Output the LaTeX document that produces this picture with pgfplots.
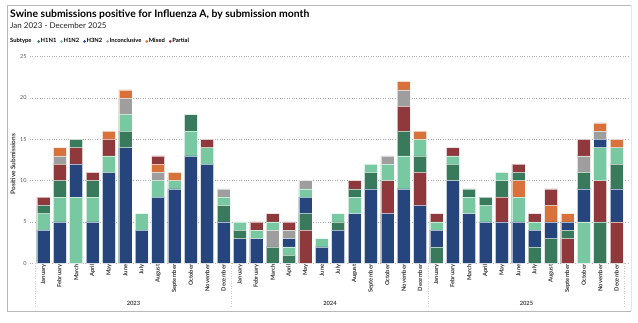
\documentclass[border=0pt]{standalone}
\usepackage{pgfplots}
\pgfplotsset{compat=1.18}
\usepackage{pgfplotstable}
\usepackage{fontspec}
\setmainfont{Lato}

\definecolor{col1}{HTML}{26457D} % H3N2
\definecolor{col2}{HTML}{78C9A1} % H1N2
\definecolor{col3}{HTML}{3A7A5C} % H1N1
\definecolor{col4}{HTML}{8F393C} % Partial
\definecolor{col5}{HTML}{9E9E9E} % Inconclusive
\definecolor{col6}{HTML}{D8723A} % Mixed

% segments bottom-to-top: colour code c, value v
% 1=H3N2 2=H1N2 3=H1N1 4=Partial 5=Inconclusive 6=Mixed
\pgfplotstableread{
x c1 v1 c2 v2 c3 v3 c4 v4 c5 v5 c6 v6
0 1 4 2 2 3 1 4 1 0 0 0 0
1 1 5 2 3 3 2 4 2 5 1 6 1
2 2 8 1 4 4 2 3 1 0 0 0 0
3 1 5 2 3 3 2 4 1 0 0 0 0
4 1 11 2 2 4 2 6 1 0 0 0 0
5 1 14 3 2 2 2 5 2 6 1 0 0
6 1 4 2 2 0 0 0 0 0 0 0 0
7 1 8 2 2 5 1 6 1 4 1 0 0
8 1 9 2 1 6 1 0 0 0 0 0 0
9 1 13 2 3 3 2 0 0 0 0 0 0
10 1 12 2 2 4 1 0 0 0 0 0 0
11 1 5 3 2 2 1 5 1 0 0 0 0
12 1 3 3 1 2 1 0 0 0 0 0 0
13 1 3 2 1 4 1 0 0 0 0 0 0
14 3 2 5 2 2 1 4 1 0 0 0 0
15 3 1 2 1 1 1 5 1 4 1 0 0
16 4 4 3 2 1 2 2 1 5 1 0 0
17 1 2 2 1 0 0 0 0 0 0 0 0
18 1 4 3 1 2 1 0 0 0 0 0 0
19 1 6 2 2 3 1 4 1 0 0 0 0
20 1 9 3 2 2 1 0 0 0 0 0 0
21 1 6 4 4 2 2 5 1 0 0 0 0
22 1 9 2 4 3 3 4 3 5 2 6 1
23 1 7 4 4 3 2 2 2 6 1 0 0
24 3 2 1 2 2 1 4 1 0 0 0 0
25 1 10 3 2 2 1 4 1 0 0 0 0
26 1 6 2 2 3 1 0 0 0 0 0 0
27 1 5 2 2 3 1 0 0 0 0 0 0
28 1 5 4 3 3 2 2 1 0 0 0 0
29 1 5 2 3 6 2 3 1 4 1 0 0
30 3 2 1 2 2 1 4 1 0 0 0 0
31 3 3 1 2 6 2 4 2 0 0 0 0
32 4 3 3 1 1 1 6 1 0 0 0 0
33 2 5 1 4 3 2 5 2 4 2 0 0
34 3 5 4 5 2 4 1 1 5 1 6 1
35 4 5 1 4 3 3 2 2 6 1 0 0
}\segs
\pgfplotstablecreatecol[expr={\thisrow{v1}}]{s1}\segs
\pgfplotstablecreatecol[expr={\thisrow{s1}+\thisrow{v2}}]{s2}\segs
\pgfplotstablecreatecol[expr={\thisrow{s2}+\thisrow{v3}}]{s3}\segs
\pgfplotstablecreatecol[expr={\thisrow{s3}+\thisrow{v4}}]{s4}\segs
\pgfplotstablecreatecol[expr={\thisrow{s4}+\thisrow{v5}}]{s5}\segs
\pgfplotstablecreatecol[expr={\thisrow{s5}+\thisrow{v6}}]{s6}\segs

\newcommand{\seg}[2]{%
\addplot[ybar, bar width=13pt, bar shift=0pt, fill=col#2, draw=white, draw opacity=0.6, line width=0.5pt, forget plot]
 table[x=x, y expr={\thisrow{c#1}==#2 ? \thisrow{s#1} : nan}] {\segs};}
\newcommand{\layer}[1]{\seg{#1}{1}\seg{#1}{2}\seg{#1}{3}\seg{#1}{4}\seg{#1}{5}\seg{#1}{6}}

\begin{document}
\begin{tikzpicture}
\useasboundingbox (0,0) rectangle (638pt,322pt);
\fill[white] (0,0) rectangle (638pt,322pt);
\draw[gray!55, line width=0.9pt] (631pt,11pt) -- (7pt,11pt) -- (7pt,317pt) -- (631pt,317pt);
\draw[gray!20, line width=0.9pt] (631pt,11pt) -- (631pt,317pt);
\node[anchor=base west, font=\fontsize{10.4}{12}\selectfont\bfseries, inner sep=0pt] at (10pt,304pt) {Swine submissions positive for Influenza A, by submission month};
\node[anchor=base west, font=\fontsize{8}{9}\selectfont, inner sep=0pt, text=black!85] at (10pt,293pt) {Jan 2023 - December 2025};
\node[anchor=base west, font=\fontsize{5.8}{6}\selectfont\bfseries, inner sep=0pt] at (10pt,279pt) {Subtype};
\begin{axis}[
 at={(30pt,58.7pt)}, anchor=south west,
 scale only axis, width=598pt, height=206.6pt,
 xmin=-0.82, xmax=35.7, ymin=0, ymax=25,
 axis line style={draw=none},
 major tick length=0pt,
 ytick={0,5,...,25},
 ymajorgrids, grid style={dotted, line width=0.6pt, gray!60},
 /pgf/number format/assume math mode=true,
 yticklabel style={font=\fontsize{5.5}{6}\selectfont, text=black!65},
 xtick={0,...,35},
 xticklabels={January,February,March,April,May,June,July,August,September,October,November,December,January,February,March,April,May,June,July,August,September,October,November,December,January,February,March,April,May,June,July,August,September,October,November,December},
 xticklabel style={rotate=90, anchor=east, font=\fontsize{5.8}{6}\selectfont\bfseries, text=black!80, inner sep=1pt},
 ylabel={Positive Submissions},
 every axis y label/.style={at={(axis description cs:-0.0284,0.48)}, rotate=90, anchor=center, font=\fontsize{6.5}{7}\selectfont\bfseries, text=black!80},
 clip=false,
 legend style={at={(axis description cs:0.0117,1.074)}, anchor=west, draw=none, fill=none, legend columns=-1, font=\fontsize{5.8}{6}\selectfont\bfseries, inner sep=0pt, nodes={inner xsep=0.6pt, inner ysep=1pt}, /tikz/every odd column/.style={column sep=0pt}, /tikz/every even column/.style={column sep=3.2pt}},
 legend image code/.code={\fill[#1] (1.5pt,0pt) circle (1.45pt);},
]
\layer{6}\layer{5}\layer{4}\layer{3}\layer{2}\layer{1}
\addlegendimage{fill=col3, draw=none}\addlegendentry{H1N1}
\addlegendimage{fill=col2, draw=none}\addlegendentry{H1N2}
\addlegendimage{fill=col1, draw=none}\addlegendentry{H3N2}
\addlegendimage{fill=col5, draw=none}\addlegendentry{Inconclusive}
\addlegendimage{fill=col6, draw=none}\addlegendentry{Mixed}
\addlegendimage{fill=col4, draw=none}\addlegendentry{Partial}
\pgfplotsinvokeforeach{-0.5,11.5,23.5,35.5}{
 \draw[dotted, gray!45, line width=0.5pt] (axis cs:#1,0) -- ([yshift=-44pt]axis cs:#1,0);
}
\node[font=\fontsize{5.8}{6}\selectfont\bfseries, text=black!75] at ([yshift=-40.5pt]axis cs:5.5,0) {2023};
\node[font=\fontsize{5.8}{6}\selectfont\bfseries, text=black!75] at ([yshift=-40.5pt]axis cs:17.5,0) {2024};
\node[font=\fontsize{5.8}{6}\selectfont\bfseries, text=black!75] at ([yshift=-40.5pt]axis cs:29.5,0) {2025};
\end{axis}
\end{tikzpicture}
\end{document}
